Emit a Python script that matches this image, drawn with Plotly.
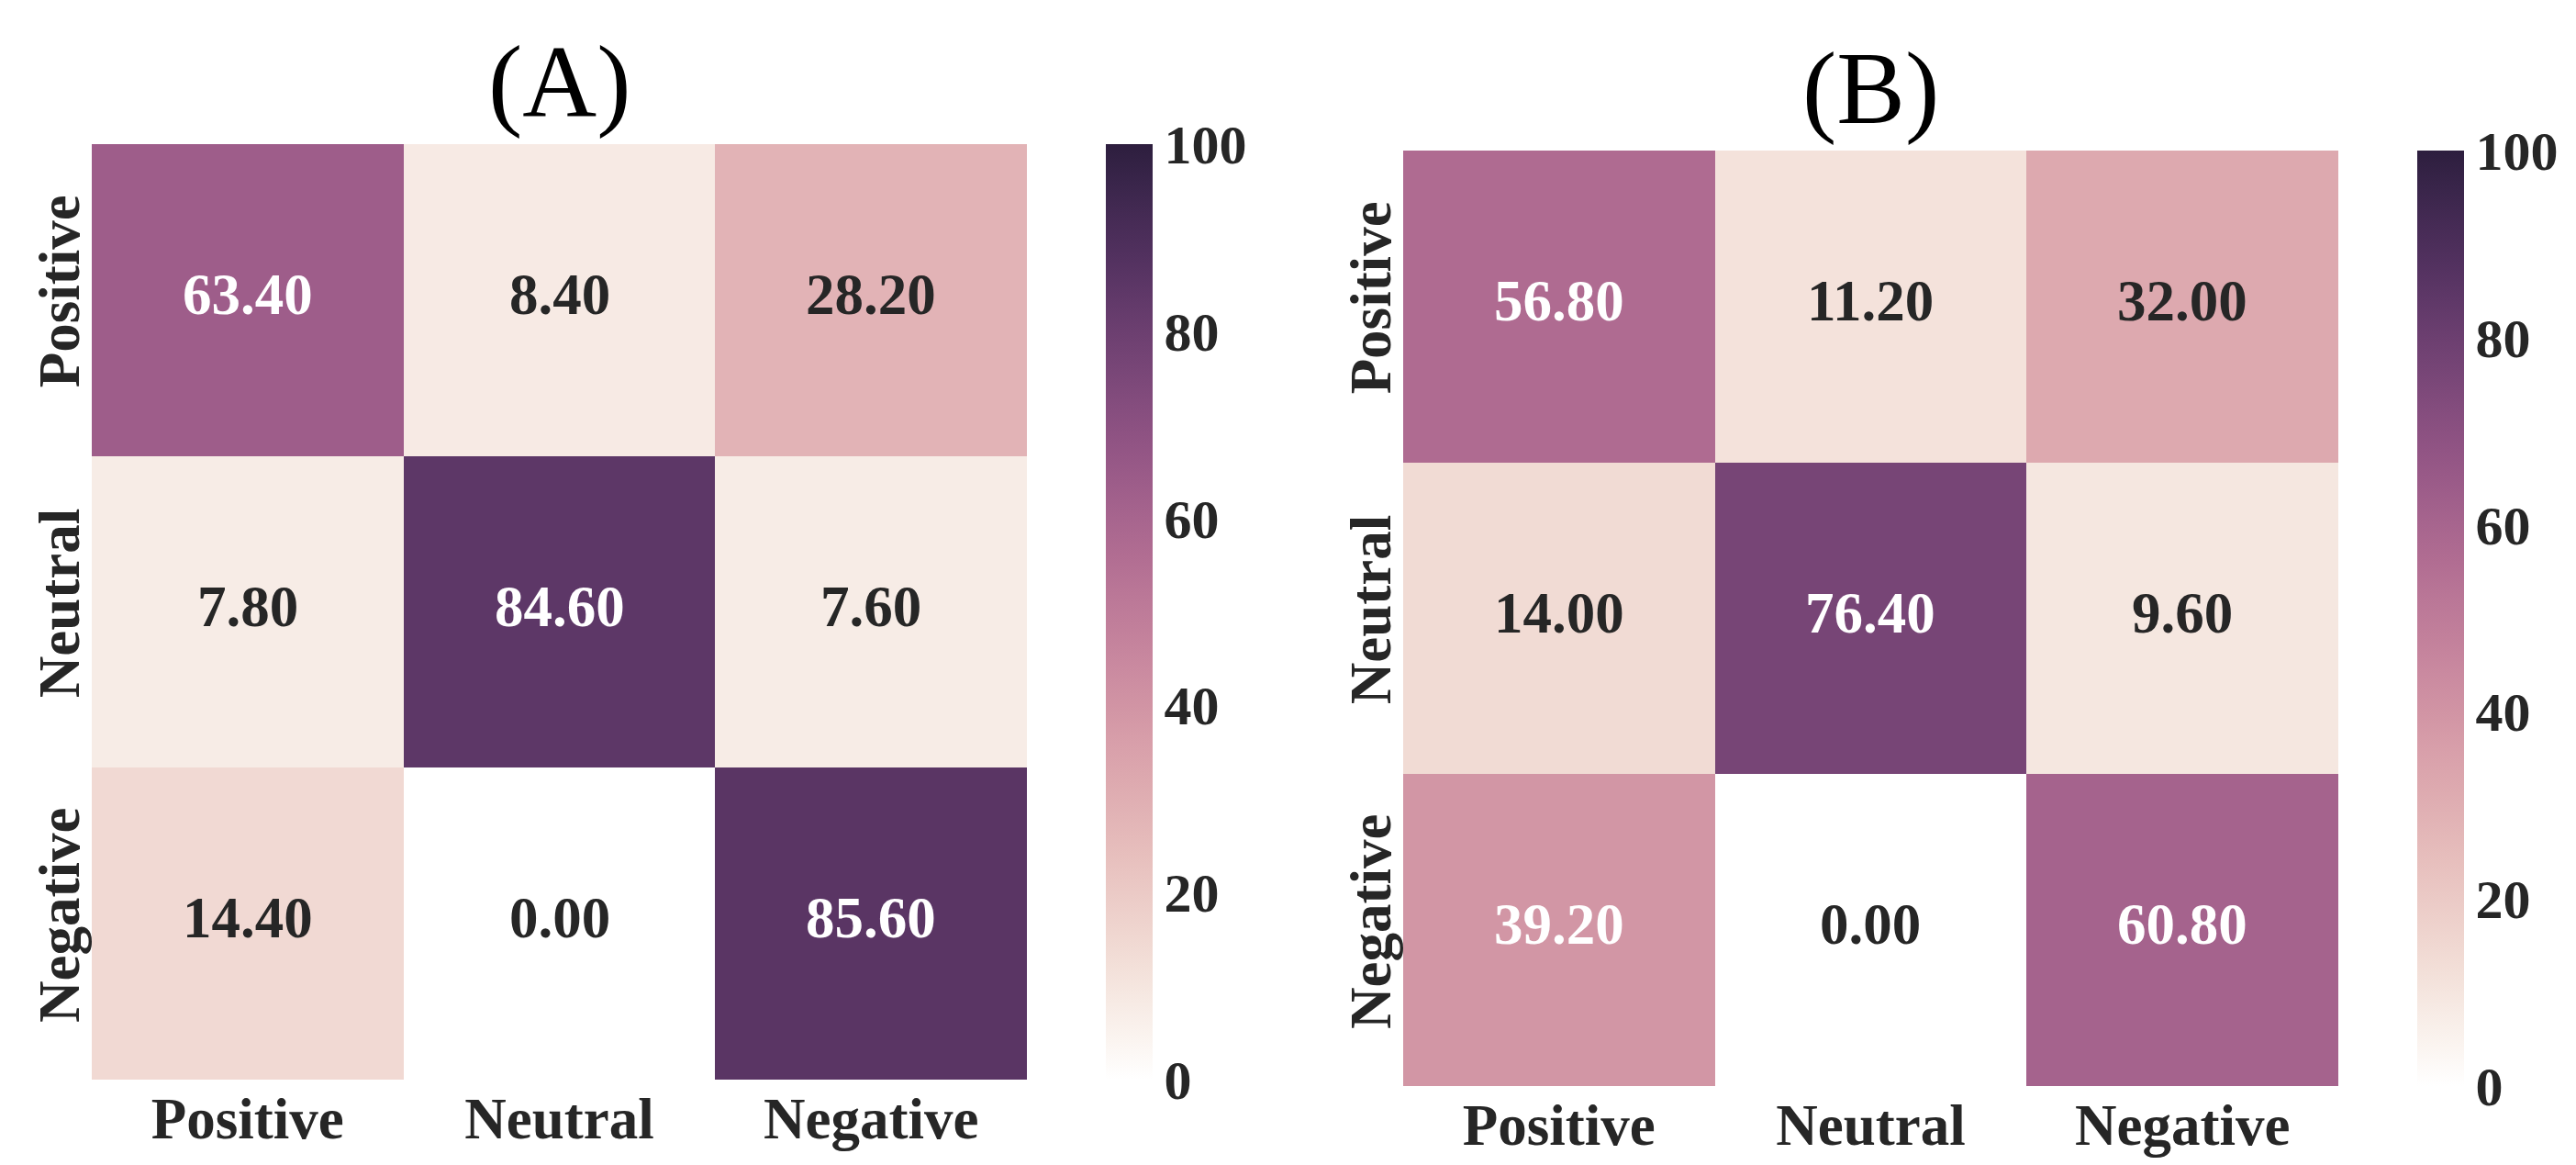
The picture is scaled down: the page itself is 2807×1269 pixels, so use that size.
import numpy as np
import plotly.graph_objects as go

# confusion matrices (percent), rows = true label, cols = predicted label
labels = ["Positive", "Neutral", "Negative"]
values_a = [[63.40, 8.40, 28.20],
            [7.80, 84.60, 7.60],
            [14.40, 0.00, 85.60]]
values_b = [[56.80, 11.20, 32.00],
            [14.00, 76.40, 9.60],
            [39.20, 0.00, 60.80]]
panel_titles = ["(A)", "(B)"]
cbar_ticks = [0, 20, 40, 60, 80, 100]

W, H = 2807, 1269
FONT = "Liberation Serif"
DARK = "#262626"


# seaborn-style cubehelix (start=0, rot=.4, hue=.8, light=1, dark=.15)
def cubehelix(x, start=0.0, rot=0.4, hue=0.8, gamma=1.0):
    xg = x ** gamma
    a = hue * xg * (1 - xg) / 2
    phi = 2 * np.pi * (start / 3 + rot * x)
    r = xg + a * (-0.14861 * np.cos(phi) + 1.78277 * np.sin(phi))
    g = xg + a * (-0.29227 * np.cos(phi) - 0.90649 * np.sin(phi))
    b = xg + a * (1.97294 * np.cos(phi))
    return np.clip([r, g, b], 0, 1)


def value_rgb(v):
    return cubehelix(1 - 0.85 * v / 100.0)


def to_css(rgb):
    return "rgb(%d,%d,%d)" % tuple(int(round(c * 255)) for c in rgb)


def luminance(rgb):
    c = np.where(rgb <= 0.03928, rgb / 12.92, ((rgb + 0.055) / 1.055) ** 2.4)
    return 0.2126 * c[0] + 0.7152 * c[1] + 0.0722 * c[2]


stops = np.linspace(0, 1, 26)
colorscale = [[s, to_css(value_rgb(s * 100))] for s in stops]

# pixel boxes of each heatmap / colorbar / title, measured on the reference
panels = [
    dict(z=values_a, x0=92, x1=1111, y0=149, y1=1168, cbx=1197, tx=601, ty=81),
    dict(z=values_b, x0=1521, x1=2540, y0=156, y1=1175, cbx=2626, tx=2030, ty=88),
]

fig = go.Figure()
annotations = []
for i, p in enumerate(panels):
    n = i + 1
    xa = "x" if n == 1 else "x%d" % n
    ya = "y" if n == 1 else "y%d" % n
    fig.add_trace(go.Heatmap(
        z=p["z"], x=labels, y=labels, xaxis=xa, yaxis=ya,
        zmin=0, zmax=100, colorscale=colorscale,
        hoverinfo="skip",
        colorbar=dict(
            x=p["cbx"] / W, xanchor="left", xpad=0,
            y=1 - (p["y0"] + p["y1"]) / 2 / H, yanchor="middle", ypad=0,
            len=p["y1"] - p["y0"], lenmode="pixels",
            thickness=51, thicknessmode="pixels",
            outlinewidth=0, ticks="", tickvals=cbar_ticks,
            tickfont=dict(family=FONT, size=60, color=DARK, weight="bold"),
        ),
    ))
    fig.update_layout(**{
        ("xaxis" if n == 1 else "xaxis%d" % n): dict(
            domain=[p["x0"] / W, p["x1"] / W], anchor=ya,
            showgrid=False, zeroline=False, ticks="", showline=False,
            tickfont=dict(family=FONT, size=63, color=DARK, weight="bold"),
        ),
        ("yaxis" if n == 1 else "yaxis%d" % n): dict(
            domain=[1 - p["y1"] / H, 1 - p["y0"] / H], anchor=xa,
            autorange="reversed", showgrid=False, zeroline=False, ticks="",
            showline=False, tickangle=-90,
            tickfont=dict(family=FONT, size=63, color=DARK, weight="bold"),
        ),
    })
    # cell labels, light text on dark cells like seaborn's annot
    for r, row in enumerate(p["z"]):
        for c, v in enumerate(row):
            txt_color = DARK if luminance(value_rgb(v)) > 0.408 else "white"
            annotations.append(dict(
                x=labels[c], y=labels[r], xref=xa, yref=ya,
                text="%.2f" % v, showarrow=False,
                font=dict(family=FONT, size=63, color=txt_color, weight="bold"),
                yshift=6,
            ))
    annotations.append(dict(
        x=p["tx"] / W, y=1 - p["ty"] / H, xref="paper", yref="paper",
        xanchor="center", yanchor="middle", text=panel_titles[i],
        showarrow=False, font=dict(family=FONT, size=112, color="black"),
    ))

fig.update_layout(
    width=W, height=H,
    margin=dict(l=0, r=0, t=0, b=0),
    paper_bgcolor="white", plot_bgcolor="white",
    annotations=annotations,
)

fig.write_html("out.html")
